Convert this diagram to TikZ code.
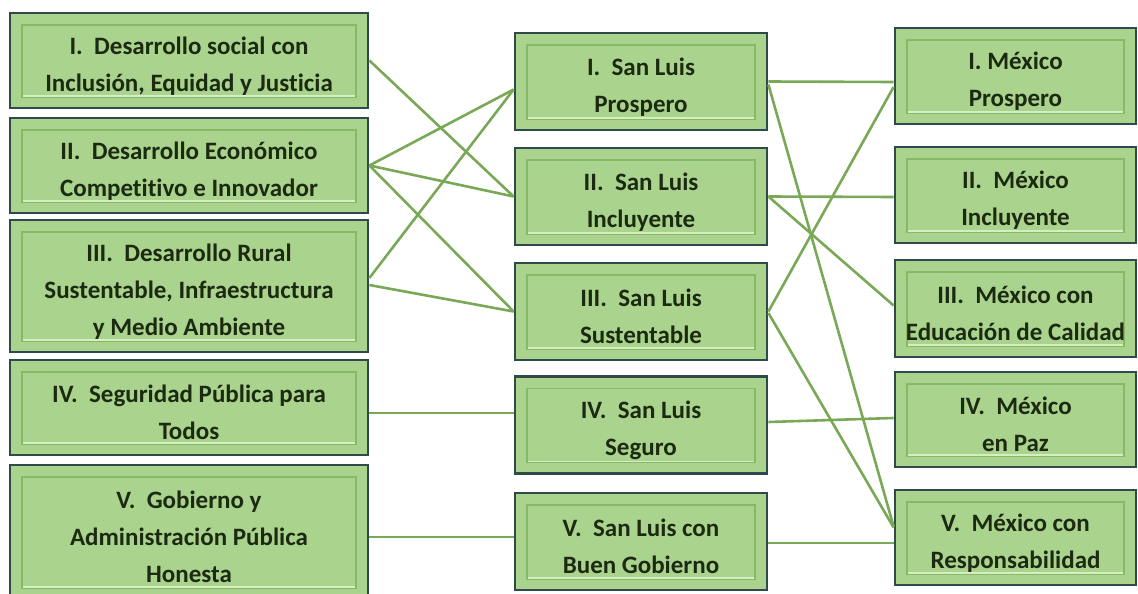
\documentclass[tikz,border=0pt]{standalone}
\usepackage{fontspec}
\setmainfont{Carlito}[Ligatures=NoCommon]
\usepackage{xcolor}
\usepackage{tikz}
\usetikzlibrary{positioning}

\definecolor{boxfill}{HTML}{AAD38E}
\definecolor{boxedge}{HTML}{30494A}
\definecolor{innerline}{HTML}{86B866}
\definecolor{innerlight}{HTML}{D6EEC4}
\definecolor{linkgreen}{HTML}{79A856}
\definecolor{textdark}{HTML}{1C2A12}

% first line strut, pushes the text a little down
\newcommand{\cajatope}{\rule{0pt}{28pt}}

\begin{document}
\begin{tikzpicture}[x=1pt, y=-1pt,
  box/.style={draw=boxedge, line width=2.8pt, fill=boxfill, inner sep=0pt,
    align=center, text=textdark, font=\fontsize{25}{37}\selectfont\bfseries,
    path picture={\draw[innerline, line width=1.8pt]
      ([shift={(12pt,-12pt)}]path picture bounding box.north west) rectangle
      ([shift={(-12pt,11pt)}]path picture bounding box.south east);
      \draw[innerlight, line width=1.6pt]
      ([shift={(13pt,12pt)}]path picture bounding box.south west) --
      ([shift={(-13pt,12pt)}]path picture bounding box.south east);}},
  link/.style={linkgreen, line width=2.6pt}]
\useasboundingbox (0,0) rectangle (1138,594);

% ejes estatales
\node[box, minimum width=358pt, minimum height=95pt] (eje_1) at (189,60.5) {\cajatope I.\ \ Desarrollo social con\\Inclusión, Equidad y Justicia};
\node[box, minimum width=358pt, minimum height=95pt] (eje_2) at (189,165.5) {\cajatope II.\ \ Desarrollo Económico\\Competitivo e Innovador};
\node[box, minimum width=358pt, minimum height=132pt] (eje_3) at (189,286) {\cajatope III.\ \ Desarrollo Rural\\Sustentable, Infraestructura\\y Medio Ambiente};
\node[box, minimum width=358pt, minimum height=95pt] (eje_4) at (189,407.5) {\cajatope IV.\ \ Seguridad Pública para\\Todos};
\node[box, minimum width=358pt, minimum height=134pt] (eje_5) at (189,532) {\cajatope V.\ \ Gobierno y\\Administración Pública\\Honesta};

% san luis
\node[box, minimum width=252pt, minimum height=97pt] (sl_1) at (641,81.5) {\cajatope I.\ \ San Luis\\Prospero};
\node[box, minimum width=252pt, minimum height=97pt] (sl_2) at (641,196.5) {\cajatope II.\ \ San Luis\\Incluyente};
\node[box, minimum width=252pt, minimum height=97pt] (sl_3) at (641,311.5) {\cajatope III.\ \ San Luis\\Sustentable};
\node[box, minimum width=252pt, minimum height=97pt] (sl_4) at (641,425) {\cajatope IV.\ \ San Luis\\Seguro};
\node[box, minimum width=252pt, minimum height=97pt] (sl_5) at (641,541.5) {\cajatope V.\ \ San Luis con\\Buen Gobierno};

% mexico
\node[box, minimum width=241pt, minimum height=96pt] (mx_1) at (1015.5,76) {\cajatope I. México\\Prospero};
\node[box, minimum width=241pt, minimum height=96pt] (mx_2) at (1015.5,195) {\cajatope II.\ \ México\\Incluyente};
\node[box, minimum width=241pt, minimum height=97pt] (mx_3) at (1015.5,308.5) {\cajatope III.\ \ México con\\Educación de Calidad};
\node[box, minimum width=241pt, minimum height=95pt] (mx_4) at (1015.5,419.5) {\cajatope IV.\ \ México\\en Paz};
\node[box, minimum width=241pt, minimum height=95pt] (mx_5) at (1015.5,537.5) {\cajatope V.\ \ México con\\Responsabilidad};

% ejes -> san luis
\draw[link] (eje_1.east) -- (sl_2.west);
\draw[link] (eje_2.east) -- ([yshift=-8pt]sl_1.west);
\draw[link] (eje_2.east) -- (sl_2.west);
\draw[link] (eje_2.east) -- (sl_3.west);
\draw[link] ([yshift=8pt]eje_3.east) -- ([yshift=-8pt]sl_1.west);
\draw[link] ([yshift=1pt]eje_3.east) -- (sl_3.west);
\draw[link] ([yshift=-5.5pt]eje_4.east) -- ([yshift=12pt]sl_4.west);
\draw[link] ([yshift=-5pt]eje_5.east) -- ([yshift=4.5pt]sl_5.west);

% san luis -> mexico
\draw[link] (sl_1.east) -- ([yshift=-6pt]mx_1.west);
\draw[link] ([yshift=-3pt]sl_1.east) -- ([yshift=11pt]mx_5.west);
\draw[link] (sl_2.east) -- ([yshift=-2pt]mx_2.west);
\draw[link] (sl_2.east) -- ([yshift=3pt]mx_3.west);
\draw[link] (sl_3.east) -- ([yshift=-11pt]mx_1.west);
\draw[link] ([yshift=-1.5pt]sl_3.east) -- ([yshift=10pt]mx_5.west);
\draw[link] ([yshift=3pt]sl_4.east) -- ([yshift=1.5pt]mx_4.west);
\draw[link] ([yshift=-1.5pt]sl_5.east) -- ([yshift=-5.5pt]mx_5.west);

\end{tikzpicture}
\end{document}
